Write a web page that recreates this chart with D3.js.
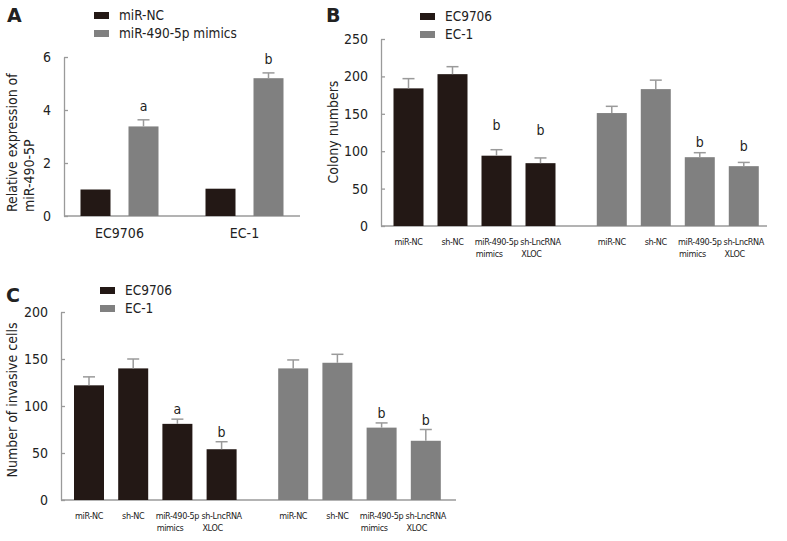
<!DOCTYPE html>
<html><head><meta charset="utf-8">
<script src="https://cdn.jsdelivr.net/npm/d3@7"></script>
<style>
body{margin:0;background:#fff;}
svg text{font-family:"DejaVu Sans Condensed","Liberation Sans",sans-serif;fill:#222;}
</style></head><body>
<svg id="c" width="787" height="541"></svg>
<script>
// ---------- data ----------
// Panel A
const cellLinesA = ["EC9706", "EC-1"];
const seriesA = ["miR-NC", "miR-490-5p mimics"];
const miRNCValuesA = [1.0, 1.03];
const miRNCErrA = [0, 0];
const mimicsValuesA = [3.38, 5.2];
const mimicsErrA = [0.25, 0.2];
const mimicsSigA = ["a", "b"];
const ticksA = [0, 2, 4, 6];

// Panels B and C shared
const treatments = ["miR-NC", "sh-NC", "miR-490-5p\nmimics", "sh-LncRNA\nXLOC"];
const seriesBC = ["EC9706", "EC-1"];

// Panel B: colony numbers
const colonyEC9706 = [184, 203, 94, 84];
const colonyEC9706Err = [13, 10, 8, 7];
const colonyEC9706Sig = ["", "", "b", "b"];
const colonyEC1 = [151, 183, 92, 80];
const colonyEC1Err = [9, 12, 6, 5];
const colonyEC1Sig = ["", "", "b", "b"];
const ticksB = [0, 50, 100, 150, 200, 250];

// Panel C: invasive cells
const invasiveEC9706 = [122, 140, 81, 54];
const invasiveEC9706Err = [9, 10, 5, 8];
const invasiveEC9706Sig = ["", "", "a", "b"];
const invasiveEC1 = [140, 146, 77, 63];
const invasiveEC1Err = [9, 9, 5, 12];
const invasiveEC1Sig = ["", "", "b", "b"];
const ticksC = [0, 50, 100, 150, 200];

// ---------- style ----------
const DARK = "#231815", GRAY = "#808080", AXIS = "#9a9a9a";
const svg = d3.select("#c");

function yAxis(g, y, ticks) {
  g.call(d3.axisLeft(y).tickValues(ticks).tickFormat(d3.format("d")).tickSize(-4).tickSizeOuter(0).tickPadding(13));
  g.selectAll("path,line").attr("stroke", AXIS).attr("stroke-width", 1.3);
  g.selectAll("text").style("font-size", "14px").attr("fill", "#222");
}

function legend(x, y, labels, colors) {
  labels.forEach((l, i) => {
    svg.append("rect").attr("x", x).attr("y", y + i * 18 - 3).attr("width", 15).attr("height", 7).attr("fill", colors[i]);
    svg.append("text").attr("x", x + 25).attr("y", y + i * 18 + 5).style("font-size", "13.5px").text(l);
  });
}

function drawBars(g, items, y, bw) {
  items.forEach(d => {
    g.append("rect").attr("x", d.cx - bw / 2).attr("width", bw)
      .attr("y", y(d.v)).attr("height", y(0) - y(d.v)).attr("fill", d.color);
    if (d.e > 0) {
      g.append("line").attr("x1", d.cx).attr("x2", d.cx).attr("y1", y(d.v)).attr("y2", y(d.v + d.e))
        .attr("stroke", AXIS).attr("stroke-width", 1.5);
      g.append("line").attr("x1", d.cx - 6).attr("x2", d.cx + 6).attr("y1", y(d.v + d.e)).attr("y2", y(d.v + d.e))
        .attr("stroke", AXIS).attr("stroke-width", 1.5);
    }
    if (d.sig) {
      g.append("text").attr("x", d.cx).attr("y", y(d.v + d.e) - d.gap + 5)
        .attr("text-anchor", "middle").style("font-size", "14px").text(d.sig);
    }
  });
}

function panelLabel(x, y, t) {
  svg.append("text").attr("x", x).attr("y", y).style("font-size", "19px").style("font-weight", "bold")
    .style("font-family", "'DejaVu Sans','Liberation Sans',sans-serif").text(t);
}

// ---------- Panel A ----------
(function () {
  const y = d3.scaleLinear().domain([0, 6]).range([216, 57]);
  const x0 = d3.scaleBand().domain(cellLinesA).range([57, 307]);
  const x1 = d3.scalePoint().domain(seriesA).range([-24, 24]);
  const g = svg.append("g");
  g.append("line").attr("x1", 64).attr("x2", 300).attr("y1", y(0)).attr("y2", y(0)).attr("stroke", AXIS).attr("stroke-width", 1.3);
  const items = [];
  cellLinesA.forEach((c, i) => {
    const cx = x0(c) + x0.bandwidth() / 2;
    items.push({cx: cx + x1(seriesA[0]), v: miRNCValuesA[i], e: miRNCErrA[i], color: DARK, sig: "", gap: 0});
    items.push({cx: cx + x1(seriesA[1]), v: mimicsValuesA[i], e: mimicsErrA[i], color: GRAY, sig: mimicsSigA[i], gap: 14});
    g.append("text").attr("x", cx).attr("y", y(0) + 22).attr("text-anchor", "middle").style("font-size", "14px").text(c);
  });
  drawBars(g, items, y, 30);
  yAxis(g.append("g").attr("transform", "translate(64,0)"), y, ticksA);
  const t = svg.append("text").attr("transform", "translate(17,212) rotate(-90)").style("font-size", "14px");
  t.append("tspan").attr("x", 0).attr("y", 0).text("Relative expression of");
  t.append("tspan").attr("x", 0).attr("y", 17).text("miR-490-5P");
  legend(94, 15, seriesA, [DARK, GRAY]);
  panelLabel(7, 22, "A");
})();

// ---------- Panels B & C ----------
function groupedPanel(opt) {
  const y = d3.scaleLinear().domain(opt.domain).range(opt.yRange);
  const x = d3.scaleLinear().domain([0, 1]).range([opt.x0, opt.x0 + opt.step]);
  const groupOffset = 4.62;
  const g = svg.append("g");
  g.append("line").attr("x1", opt.axisX).attr("x2", opt.axisEnd).attr("y1", y(0)).attr("y2", y(0)).attr("stroke", AXIS).attr("stroke-width", 1.3);
  const items = [];
  const labG = g.append("g");
  opt.series.forEach((s, gi) => {
    treatments.forEach((t, i) => {
      const cx = x(i + gi * groupOffset);
      items.push({cx, v: s.values[i], e: s.err[i], color: s.color, sig: s.sig[i], gap: s.gaps[i]});
      const lines = t.split("\n");
      const first = labG.append("text").attr("x", cx).attr("y", y(0) + 19)
        .attr("text-anchor", "middle").style("font-size", "9px").style("letter-spacing", "-0.35px").text(lines[0]);
      if (lines[1]) {
        const w = first.node().getComputedTextLength();
        labG.append("text").attr("x", cx - w / 2 + 1).attr("y", y(0) + 31)
          .attr("text-anchor", "start").style("font-size", "9px").style("letter-spacing", "-0.35px").text(lines[1]);
      }
    });
  });
  drawBars(g, items, y, 30);
  yAxis(g.append("g").attr("transform", `translate(${opt.axisX},0)`), y, opt.ticks);
  svg.append("text").attr("transform", `translate(${opt.titleX},${opt.titleY}) rotate(-90)`)
    .attr("text-anchor", "middle").style("font-size", "14px").text(opt.title);
  legend(opt.legX, opt.legY, seriesBC, [DARK, GRAY]);
  panelLabel(opt.labX, opt.labY, opt.label);
}

groupedPanel({
  domain: [0, 250], yRange: [226, 39], x0: 408.5, step: 44, axisX: 381, axisEnd: 767,
  ticks: ticksB, title: "Colony numbers", titleX: 338, titleY: 132,
  legX: 420, legY: 16, labX: 326, labY: 22, label: "B",
  series: [
    {values: colonyEC9706, err: colonyEC9706Err, sig: colonyEC9706Sig, color: DARK, gaps: [0, 0, 25, 28]},
    {values: colonyEC1, err: colonyEC1Err, sig: colonyEC1Sig, color: GRAY, gaps: [0, 0, 11, 16]}
  ]
});

groupedPanel({
  domain: [0, 200], yRange: [500, 312], x0: 89, step: 44.2, axisX: 61, axisEnd: 456,
  ticks: ticksC, title: "Number of invasive cells", titleX: 17, titleY: 400,
  legX: 100, legY: 290, labX: 6, labY: 302, label: "C",
  series: [
    {values: invasiveEC9706, err: invasiveEC9706Err, sig: invasiveEC9706Sig, color: DARK, gaps: [0, 0, 10, 10]},
    {values: invasiveEC1, err: invasiveEC1Err, sig: invasiveEC1Sig, color: GRAY, gaps: [0, 0, 10, 10]}
  ]
});
</script>
</body></html>
